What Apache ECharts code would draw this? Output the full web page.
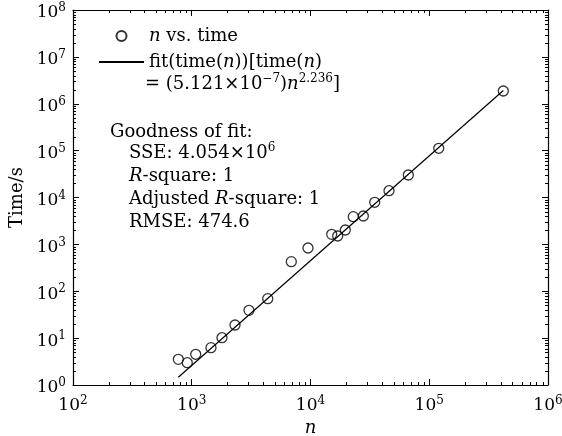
<!DOCTYPE html>
<html>
<head>
<meta charset="utf-8">
<script src="https://cdn.jsdelivr.net/npm/echarts@6/dist/echarts.min.js"></script>
<style>
  html, body { margin: 0; padding: 0; background: #fff; }
  #chart { width: 562px; height: 436px; }
</style>
</head>
<body>
<div id="chart"></div>
<script>
// measured points (n, time in s)
const sizeN = [771, 917, 1080, 1452, 1797, 2313, 3034, 4362, 6892, 9527, 15080, 16940, 19640, 22930, 27860, 34740, 45840, 66680, 120200, 420400];
const timeS = [3.53, 2.99, 4.52, 6.25, 10.2, 19.05, 39.2, 69.4, 427, 837, 1640, 1510, 2027, 3894, 4030, 7900, 13960, 30200, 112200, 1871000];
// fitted line end points
const fitN = [771, 420400];
const fitTime = [1.46, 1.92e6];

const FONT = 'DejaVu Serif';
const BLACK = '#000';

const rich = {
  b: { fontFamily: FONT, fontSize: 18, lineHeight: 23, color: BLACK },
  i: { fontFamily: FONT, fontSize: 18, lineHeight: 23, color: BLACK, fontStyle: 'italic' },
  s: { fontFamily: FONT, fontSize: 12, lineHeight: 8, color: BLACK, verticalAlign: 'top' }
};
const tickRich = {
  b: { fontFamily: FONT, fontSize: 17, lineHeight: 22, color: BLACK },
  s: { fontFamily: FONT, fontSize: 12, lineHeight: 8, color: BLACK, verticalAlign: 'top' }
};

const powLabel = v => '{b|10}{s|' + Math.round(Math.log10(v)) + '}';

function logAxis(pos, min, max, extra) {
  return Object.assign({
    type: 'log',
    logBase: 10,
    position: pos,
    min: min,
    max: max,
    interval: 1,
    axisLine: { show: true, onZero: false, lineStyle: { color: BLACK, width: 1.2 } },
    axisTick: { show: true, inside: true, length: 6, lineStyle: { color: BLACK, width: 1 } },
    splitLine: { show: false },
    axisLabel: { show: false }
  }, extra || {});
}

// minor log ticks (2..9 x 10^k) on all four sides of the frame
function minorTicks(params, api) {
  const lo = api.coord([100, 1]);
  const hi = api.coord([1e6, 1e8]);
  const left = lo[0], bottom = lo[1], right = hi[0], top = hi[1];
  const children = [];
  const seg = (x1, y1, x2, y2) => children.push({
    type: 'line',
    shape: { x1: x1, y1: y1, x2: x2, y2: y2 },
    style: { stroke: BLACK, lineWidth: 1 }
  });
  for (let k = 2; k < 6; k++) {
    for (let m = 2; m < 10; m++) {
      const px = Math.round(api.coord([m * Math.pow(10, k), 1])[0]) + 0.5;
      seg(px, bottom, px, bottom - 3);
      seg(px, top, px, top + 3);
    }
  }
  for (let k = 0; k < 8; k++) {
    for (let m = 2; m < 10; m++) {
      const py = Math.round(api.coord([100, m * Math.pow(10, k)])[1]) + 0.5;
      seg(left, py, left + 3, py);
      seg(right, py, right - 3, py);
    }
  }
  return { type: 'group', children: children };
}

const chart = echarts.init(document.getElementById('chart'));

chart.setOption({
  backgroundColor: '#fff',
  animation: false,
  grid: { left: 73, right: 14, top: 10, bottom: 51, outerBoundsMode: 'none', containLabel: false },
  legend: {
    orient: 'vertical',
    left: 98,
    top: 27,
    padding: 0,
    itemGap: 8,
    itemWidth: 45,
    itemHeight: 10,
    data: [
      { name: 'data' },
      { name: 'fit', itemStyle: { opacity: 0 } }
    ],
    textStyle: { rich: rich },
    formatter: name => name === 'data'
      ? '{i|n}{b| vs. time}'
      : '{b|fit(time(}{i|n}{b|))[time(}{i|n}{b|)}'
  },
  xAxis: [
    logAxis('bottom', 100, 1e6, {
      axisLabel: { show: true, margin: 10, formatter: powLabel, rich: tickRich },
      name: 'n',
      nameLocation: 'middle',
      nameGap: 34,
      nameTextStyle: { fontFamily: FONT, fontSize: 18, fontStyle: 'italic', color: BLACK }
    }),
    logAxis('top', 100, 1e6)
  ],
  yAxis: [
    logAxis('left', 1, 1e8, {
      axisLabel: { show: true, margin: 7, padding: [6, 0, 0, 0], formatter: powLabel, rich: tickRich },
      name: 'Time/s',
      nameLocation: 'middle',
      nameGap: 45,
      nameTextStyle: { fontFamily: FONT, fontSize: 18, color: BLACK }
    }),
    logAxis('right', 1, 1e8)
  ],
  graphic: [
    {
      type: 'text', x: 145, y: 73, silent: true,
      style: { text: '{b|= (5.121×10}{s|−7}{b|)}{i|n}{s|2.236}{b|]}', rich: rich, fill: BLACK }
    },
    {
      type: 'text', x: 110, y: 120.5, silent: true,
      style: { text: '{b|Goodness of fit:}', rich: rich, fill: BLACK }
    },
    {
      type: 'text', x: 129, y: 141.5, silent: true,
      style: {
        text: [
          '{b|SSE: 4.054×10}{s|6}',
          '{i|R}{b|-square: 1}',
          '{b|Adjusted }{i|R}{b|-square: 1}',
          '{b|RMSE: 474.6}'
        ].join('\n'),
        rich: rich,
        fill: BLACK
      }
    }
  ],
  series: [
    {
      name: 'ticks',
      type: 'custom',
      coordinateSystem: 'cartesian2d',
      xAxisIndex: 0,
      yAxisIndex: 0,
      silent: true,
      clip: false,
      data: [[1000, 10]],
      renderItem: minorTicks,
      z: 5
    },
    {
      name: 'fit',
      type: 'line',
      xAxisIndex: 0,
      yAxisIndex: 0,
      data: fitN.map((n, i) => [n, fitTime[i]]),
      symbol: 'none',
      lineStyle: { color: BLACK, width: 1.2 },
      itemStyle: { color: BLACK },
      z: 2
    },
    {
      name: 'data',
      type: 'scatter',
      xAxisIndex: 0,
      yAxisIndex: 0,
      data: sizeN.map((n, i) => [n, timeS[i]]),
      symbol: 'circle',
      symbolSize: 10,
      itemStyle: { color: 'rgba(0,0,0,0)', borderColor: BLACK, borderWidth: 1.3 },
      z: 3
    }
  ]
});
</script>
</body>
</html>
